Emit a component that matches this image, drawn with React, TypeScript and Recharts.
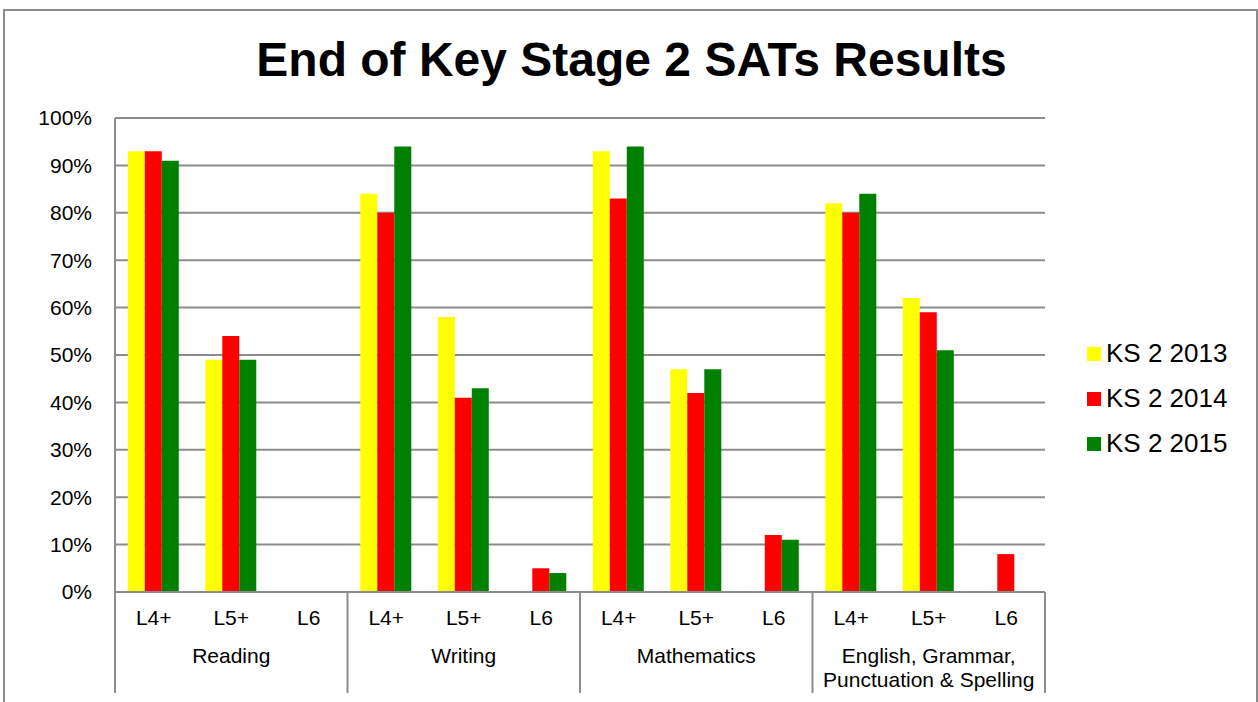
import React from 'react';
import { BarChart, Bar, XAxis, YAxis, CartesianGrid } from 'recharts';

const levels = ['L4+', 'L5+', 'L6', 'L4+', 'L5+', 'L6', 'L4+', 'L5+', 'L6', 'L4+', 'L5+', 'L6'];
const groups = ['Reading', 'Writing', 'Mathematics', 'English, Grammar,\nPunctuation & Spelling'];
const ks2013 = [93, 49, null, 84, 58, null, 93, 47, null, 82, 62, null];
const ks2014 = [93, 54, null, 80, 41, 5, 83, 42, 12, 80, 59, 8];
const ks2015 = [91, 49, null, 94, 43, 4, 94, 47, 11, 84, 51, null];
const seriesNames = ['KS 2 2013', 'KS 2 2014', 'KS 2 2015'];
const seriesKeys = ['y2013', 'y2014', 'y2015'];
const seriesColors = ['#FFFF00', '#FF0000', '#008000'];
const yTicks = [0, 10, 20, 30, 40, 50, 60, 70, 80, 90, 100];

const data = levels.map((level, i) => ({
  level,
  group: groups[Math.floor(i / 3)],
  y2013: ks2013[i],
  y2014: ks2014[i],
  y2015: ks2015[i],
}));

const W = 1258;
const H = 702;
const M = { top: 118, right: 213, bottom: 10, left: 15 };
const Y_W = 100;
const X_H = 100;
const PLOT_W = W - M.left - M.right - Y_W;
const SLOT = PLOT_W / levels.length;
const FONT = 'Arial, "Liberation Sans", sans-serif';
const AXIS_GREY = '#8c8c8c';

const XTick = (props: any) => {
  const { x, y, index, payload } = props;
  const i = index ?? payload?.index ?? 0;
  const half = SLOT / 2;
  const els: React.ReactNode[] = [];
  els.push(
    <text key="l" x={x} y={y + 27} textAnchor="middle" dominantBaseline="middle" fontSize={21} fontFamily={FONT} fill="#000">
      {payload.value}
    </text>
  );
  if (i % 3 === 0) {
    els.push(<line key="s" x1={x - half} x2={x - half} y1={y} y2={y + 101} stroke={AXIS_GREY} strokeWidth={2} />);
  }
  if (i === levels.length - 1) {
    els.push(<line key="e" x1={x + half} x2={x + half} y1={y} y2={y + 101} stroke={AXIS_GREY} strokeWidth={2} />);
  }
  if (i % 3 === 1) {
    const lines = String(data[i].group).split('\n');
    lines.forEach((ln, k) => {
      els.push(
        <text key={'g' + k} x={x} y={y + 65 + k * 24} textAnchor="middle" dominantBaseline="middle" fontSize={21} fontFamily={FONT} fill="#000">
          {ln}
        </text>
      );
    });
  }
  return <g>{els}</g>;
};

export default function App() {
  return (
    <div style={{ position: 'fixed', left: 0, top: 0, width: W, height: H, overflow: 'hidden', background: '#fff' }}>
      <div
        style={{
          position: 'absolute',
          left: 3,
          top: 9,
          width: 1251,
          height: 720,
          borderTop: '2px solid #8c8c8c',
          borderLeft: '2px solid #8c8c8c',
          borderRight: '2px solid #8c8c8c',
        }}
      />
      <div
        style={{
          position: 'absolute',
          left: 0,
          top: 36,
          width: 1263,
          textAlign: 'center',
          fontFamily: FONT,
          fontWeight: 'bold',
          fontSize: 48,
          lineHeight: '48px',
          color: '#000',
        }}
      >
        End of Key Stage 2 SATs Results
      </div>
      <div style={{ position: 'absolute', left: 0, top: 0 }}>
        <BarChart width={W} height={H} data={data} margin={M} barCategoryGap="16.5%" barGap={0}>
          <CartesianGrid vertical={false} stroke={AXIS_GREY} strokeWidth={2} />
          <XAxis
            dataKey="level"
            interval={0}
            height={X_H}
            tickLine={false}
            tickSize={0}
            tickMargin={0}
            axisLine={{ stroke: AXIS_GREY, strokeWidth: 2 }}
            tick={<XTick />}
          />
          <YAxis
            width={Y_W}
            domain={[0, 100]}
            ticks={yTicks}
            interval={0}
            tickFormatter={(v: number) => `${v}%`}
            tickLine={false}
            tickSize={0}
            tickMargin={23}
            axisLine={{ stroke: AXIS_GREY, strokeWidth: 2 }}
            tick={{ fontSize: 21, fontFamily: FONT, fill: '#000' }}
          />
          {seriesKeys.map((k, i) => (
            <Bar key={k} dataKey={k} name={seriesNames[i]} fill={seriesColors[i]} isAnimationActive={false} />
          ))}
        </BarChart>
      </div>
      <div style={{ position: 'absolute', left: 1087, top: 331, fontFamily: FONT, fontSize: 26, color: '#000' }}>
        {seriesNames.map((n, i) => (
          <div key={n} style={{ display: 'flex', alignItems: 'center', height: 45 }}>
            <div style={{ width: 14, height: 14, background: seriesColors[i], marginRight: 5 }} />
            <span style={{ lineHeight: '45px' }}>{n}</span>
          </div>
        ))}
      </div>
    </div>
  );
}
